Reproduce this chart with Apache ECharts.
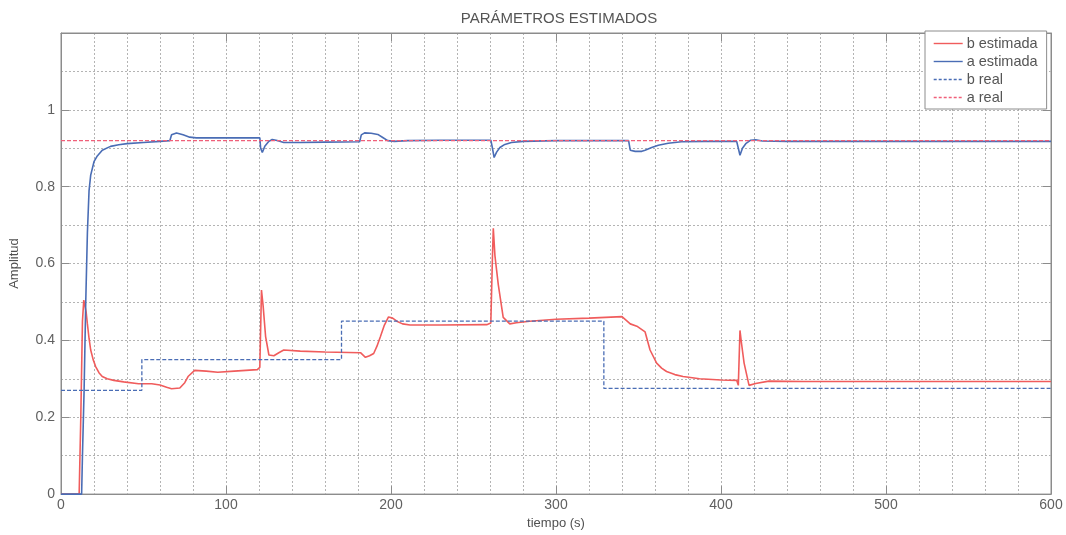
<!DOCTYPE html>
<html>
<head>
<meta charset="utf-8">
<title>Parámetros estimados</title>
<script src="https://cdn.jsdelivr.net/npm/echarts@6/dist/echarts.min.js"></script>
<style>
  html, body { margin: 0; padding: 0; background: #ffffff; }
  #chart { width: 1066px; height: 535px; }
</style>
</head>
<body>
<div id="chart"></div>
<script>
// Estimated parameter "a" (time in s, value)
var aEstT = [0, 12.5, 13, 14, 15, 16, 17, 18, 20, 22, 25, 30, 35, 40, 50, 60, 66, 67, 68, 70, 74, 78, 82, 100, 120.5,
  121, 122, 123.5, 126, 128, 131, 135, 145, 160, 181, 182, 184, 188, 192, 195, 198, 202, 210, 230, 260.5,
  261.5, 262.5, 264, 266, 269, 273, 280, 300, 344, 345, 348, 352, 354, 358, 362, 368, 376, 390, 409.5,
  410.5, 411.5, 413, 415, 418, 421, 425, 440, 500, 600];
var aEstV = [0, 0, 0.1, 0.27, 0.5, 0.68, 0.79, 0.83, 0.865, 0.88, 0.895, 0.905, 0.909, 0.912, 0.915, 0.918, 0.92, 0.935, 0.94, 0.94, 0.935, 0.929, 0.927, 0.927, 0.927,
  0.9, 0.889, 0.905, 0.918, 0.923, 0.92, 0.915, 0.915, 0.916, 0.917, 0.935, 0.94, 0.939, 0.936, 0.928, 0.92, 0.918, 0.92, 0.921, 0.921,
  0.9, 0.876, 0.89, 0.902, 0.91, 0.915, 0.918, 0.92, 0.92, 0.895, 0.892, 0.892, 0.895, 0.902, 0.908, 0.913, 0.917, 0.918, 0.918,
  0.9, 0.882, 0.9, 0.912, 0.921, 0.922, 0.919, 0.918, 0.918, 0.918];

// Estimated parameter "b"
var bEstT = [0, 11, 12, 13, 13.8, 14.5, 15.2, 16, 17, 18, 19.5, 21, 23, 25, 28, 32, 38, 47, 55, 60, 64, 67, 72, 75, 77, 81, 88, 95, 105, 119,
  120.5, 121.5, 122.5, 124, 126, 129, 132, 135, 145, 160, 181.5, 184.5, 187, 189.5, 191.5, 193.5, 196, 198.5,
  201, 203.5, 207, 211.5, 230, 258, 260.5, 261.5, 262, 263, 265, 268, 272, 276, 284, 300, 320, 340, 345,
  349, 354, 357, 361, 364, 367, 372, 377, 387, 400, 409.5, 410.5, 411.5, 412.5, 414, 417, 421, 429, 450, 500, 600];
var bEstV = [0, 0, 0.2, 0.45, 0.505, 0.5, 0.475, 0.443, 0.405, 0.375, 0.35, 0.332, 0.316, 0.306, 0.3, 0.296, 0.292, 0.287, 0.287, 0.284, 0.278, 0.274, 0.276, 0.29, 0.306, 0.322, 0.32, 0.317, 0.32, 0.324,
  0.33, 0.531, 0.49, 0.41, 0.362, 0.36, 0.368, 0.375, 0.372, 0.37, 0.368, 0.356, 0.36, 0.366, 0.385, 0.409, 0.44, 0.461,
  0.458, 0.45, 0.443, 0.44, 0.44, 0.441, 0.445, 0.62, 0.692, 0.62, 0.546, 0.46, 0.443, 0.446, 0.45, 0.455, 0.458, 0.462, 0.443,
  0.437, 0.422, 0.375, 0.341, 0.328, 0.319, 0.311, 0.306, 0.3, 0.297, 0.296, 0.283, 0.426, 0.39, 0.341, 0.283, 0.288, 0.294, 0.293, 0.293, 0.293];

// True parameter values
var bRealT = [0, 49, 49, 170, 170, 329, 329, 600];
var bRealV = [0.27, 0.27, 0.35, 0.35, 0.45, 0.45, 0.275, 0.275];
var aRealT = [0, 600];
var aRealV = [0.92, 0.92];

var seriesNames = ['b estimada', 'a estimada', 'b real', 'a real'];
var xTicks = [0, 100, 200, 300, 400, 500, 600];
var yTicks = [0, 0.2, 0.4, 0.6, 0.8, 1];

function pairs(t, v) {
  return t.map(function (x, i) { return [x, v[i]]; });
}

var RED = '#f05c5c';
var BLUE = '#4a6db5';
var RED_DASH = '#f0607a';
var TXT = '#606060';
var GRIDC = '#b4b4b4';
var FONT = '"Liberation Sans", Arial, sans-serif';

var chart = echarts.init(document.getElementById('chart'), null, { renderer: 'canvas' });

function mainAxis(extra) {
  return Object.assign({
    type: 'value',
    axisLine: { show: true, lineStyle: { color: '#8c8c8c', width: 1 } },
    axisTick: { show: true, inside: true, length: 8, lineStyle: { color: '#8c8c8c' } },
    splitLine: { show: true, lineStyle: { color: GRIDC, type: [2, 2], width: 1 } },
    minorSplitLine: { show: true, lineStyle: { color: GRIDC, type: [2, 2], width: 1 } },
    nameTextStyle: { color: '#505050', fontSize: 13, fontFamily: FONT }
  }, extra);
}

// top and right edges of the box carry inward ticks only
function frameAxis(extra) {
  return Object.assign({
    type: 'value',
    axisLine: { show: true, onZero: false, lineStyle: { color: '#8c8c8c', width: 1 } },
    axisTick: { show: true, inside: true, length: 8, lineStyle: { color: '#8c8c8c' } },
    axisLabel: { show: false },
    splitLine: { show: false }
  }, extra);
}

function legendItem(name, color, dashed) {
  return {
    name: name,
    itemStyle: { opacity: 0 },
    lineStyle: { color: color, width: 1.4, type: dashed ? [3, 2] : 'solid', opacity: 1 }
  };
}

var option = {
  backgroundColor: '#ffffff',
  animation: false,
  title: {
    text: 'PARÁMETROS ESTIMADOS',
    left: 554,
    textAlign: 'center',
    top: 6,
    textStyle: { color: '#555555', fontSize: 15, fontWeight: 'normal', fontFamily: FONT }
  },
  legend: {
    data: [
      legendItem(seriesNames[0], RED, false),
      legendItem(seriesNames[1], BLUE, false),
      legendItem(seriesNames[2], BLUE, true),
      legendItem(seriesNames[3], RED_DASH, true)
    ],
    orient: 'vertical',
    left: 925,
    top: 31,
    itemWidth: 29,
    itemHeight: 14,
    itemGap: 3,
    padding: [5, 9, 4, 8],
    backgroundColor: '#ffffff',
    borderColor: '#8c8c8c',
    borderWidth: 1,
    borderRadius: 0,
    textStyle: { color: '#555555', fontSize: 14.5, fontFamily: FONT, padding: [0, 0, 0, -1] }
  },
  grid: { left: 58, right: 15, top: 33, bottom: 36, show: true, borderColor: '#8c8c8c', borderWidth: 1, backgroundColor: 'transparent' },
  xAxis: [
    mainAxis({
      min: xTicks[0], max: xTicks[xTicks.length - 1], interval: 100,
      minorTick: { show: true, splitNumber: 5, length: 0, lineStyle: { opacity: 0 } },
      axisLabel: { color: TXT, fontSize: 14, fontFamily: FONT, margin: 4 },
      name: 'tiempo (s)', nameLocation: 'middle', nameGap: 17
    }),
    frameAxis({ position: 'top', min: xTicks[0], max: xTicks[xTicks.length - 1], interval: 100 })
  ],
  yAxis: [
    mainAxis({
      min: 0, max: 1.2, interval: 0.2,
      minorTick: { show: true, splitNumber: 2, length: 0, lineStyle: { opacity: 0 } },
      axisLabel: {
        color: TXT, fontSize: 14, fontFamily: FONT, margin: 6,
        formatter: function (v) {
          var r = Math.round(v * 10) / 10;
          return yTicks.indexOf(r) >= 0 ? String(r) : '';
        }
      },
      name: 'Amplitud', nameLocation: 'middle', nameGap: 40, nameRotate: 90
    }),
    frameAxis({ position: 'right', min: 0, max: 1.2, interval: 0.2 })
  ],
  series: [
    {
      name: seriesNames[0], type: 'line', data: pairs(bEstT, bEstV), symbol: 'none',
      lineStyle: { color: RED, width: 1.6 }, itemStyle: { color: RED }, z: 3
    },
    {
      name: seriesNames[1], type: 'line', data: pairs(aEstT, aEstV), symbol: 'none',
      lineStyle: { color: BLUE, width: 1.6 }, itemStyle: { color: BLUE }, z: 4
    },
    {
      name: seriesNames[2], type: 'line', data: pairs(bRealT, bRealV), symbol: 'none',
      lineStyle: { color: BLUE, width: 1.3, type: [4, 2] }, itemStyle: { color: BLUE }, z: 5
    },
    {
      name: seriesNames[3], type: 'line', data: pairs(aRealT, aRealV), symbol: 'none',
      lineStyle: { color: RED_DASH, width: 1.3, type: [4, 2] }, itemStyle: { color: RED_DASH }, z: 6
    }
  ]
};

chart.setOption(option);
</script>
</body>
</html>
